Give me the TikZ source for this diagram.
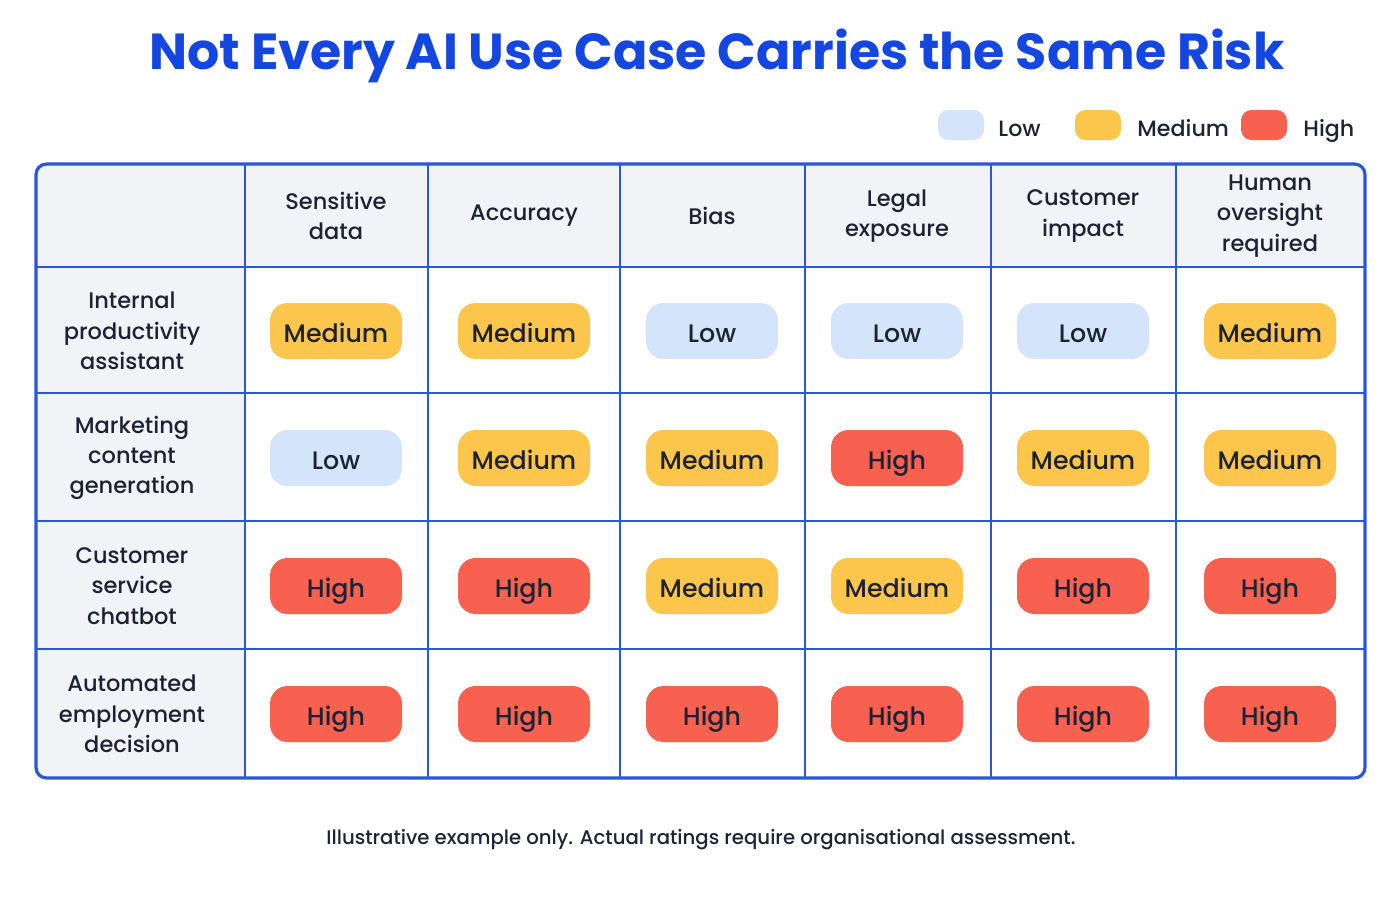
\documentclass[tikz,border=0pt]{standalone}
\usepackage{fontspec}
\setmainfont{Poppins}[UprightFont=* Medium, BoldFont=* Bold]
\definecolor{titleblue}{HTML}{1446E0}
\definecolor{gridblue}{HTML}{2A56D8}
\definecolor{headgray}{HTML}{F2F3F7}
\definecolor{lowc}{HTML}{D4E4FB}
\definecolor{medc}{HTML}{FCC54B}
\definecolor{highc}{HTML}{F8604F}
\definecolor{inkc}{HTML}{1E2235}
\tikzset{
  pill/.style={rounded corners=5pt, minimum width=132*0.01cm, minimum height=56*0.01cm,
    inner sep=0pt, text height=1.45ex, text depth=0.25ex, text=inkc, font=\fontsize{7.2pt}{8pt}\selectfont},
  Low/.style={pill, fill=lowc},
  Medium/.style={pill, fill=medc},
  High/.style={pill, fill=highc},
  key/.style={rounded corners=3pt, minimum width=46*0.01cm, minimum height=30*0.01cm, inner sep=0pt},
  keytext/.style={anchor=west, text=inkc, text height=1.45ex, text depth=0.25ex, font=\fontsize{6.3pt}{7pt}\selectfont},
  head/.style={align=center, text=inkc, font=\fontsize{6.4pt}{8.6pt}\selectfont},
}
\begin{document}
\begin{tikzpicture}[x=0.01cm,y=-0.01cm]
  \useasboundingbox[fill=white] (0,0) rectangle (1400,900);

  \node[text=titleblue, font=\bfseries\fontsize{14.4pt}{16pt}\selectfont] (title) at (717,56) {Not Every AI Use Case Carries the Same Risk};

  % legend
  \node[key, fill=lowc] (klow) at (961,125) {};
  \node[keytext] (tlow) at (986,125) {Low};
  \node[key, fill=medc] (kmed) at (1098,125) {};
  \node[keytext] (tmed) at (1125,125) {Medium};
  \node[key, fill=highc] (khigh) at (1264,125) {};
  \node[keytext] (thigh) at (1291,125) {High};

  % table background
  \fill[headgray] (36,164) rectangle (1365,267);
  \fill[headgray] (36,267) rectangle (245,778);
  \foreach \x in {245,428,620,805,991,1176}
    \draw[gridblue, line width=0.6pt] (\x,164) -- (\x,778);
  \foreach \y in {267,393,521,649}
    \draw[gridblue, line width=0.6pt] (36,\y) -- (1365,\y);
  \draw[gridblue, line width=0.9pt, rounded corners=3pt] (36,164) rectangle (1365,778);

  % column heads
  \foreach \x/\t [count=\i] in {336/{Sensitive\\data}, 524/Accuracy, 712/Bias, 897/{Legal\\exposure},
      1083/{Customer\\impact}, 1270/{Human\\oversight\\required}}
    \node[head] (col\i) at (\x,216) {\t};

  % row heads
  \foreach \y/\t [count=\j] in {331/{Internal\\productivity\\assistant}, 458/{Marketing\\content\\generation},
      586/{Customer\\service\\chatbot}, 714/{Automated\\employment\\decision}}
    \node[head] (row\j) at (132,\y) {\t};

  % ratings
  \foreach \r [count=\j] in {{Medium,Medium,Low,Low,Low,Medium},
      {Low,Medium,Medium,High,Medium,Medium},
      {High,High,Medium,Medium,High,High},
      {High,High,High,High,High,High}} {
    \foreach \v [count=\i] in \r {
      \node[\v] (c\j\i) at (col\i |- row\j) {\v};
    }
  }

  \node[text=inkc, font=\fontsize{5.6pt}{7pt}\selectfont] (note) at (701,840)
    {Illustrative example only. Actual ratings require organisational assessment.};
\end{tikzpicture}
\end{document}
